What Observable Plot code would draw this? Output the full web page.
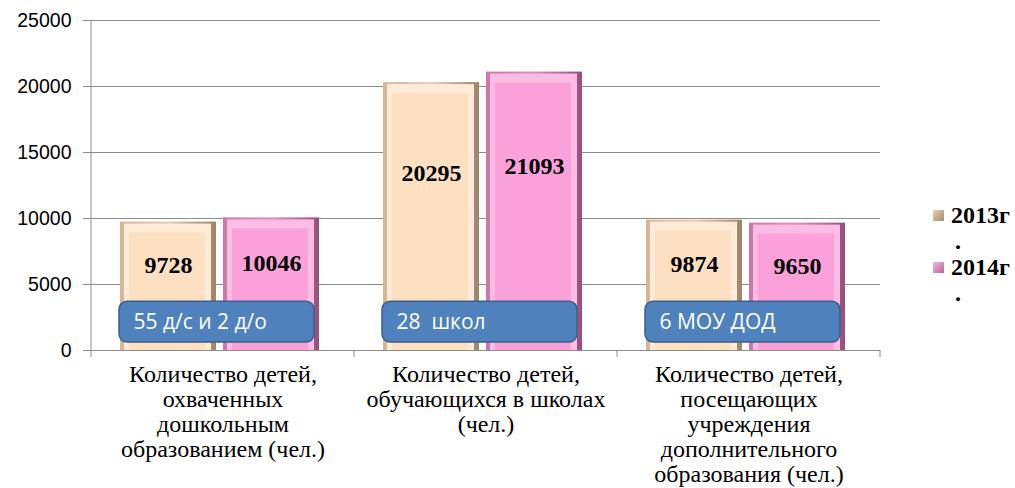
<!DOCTYPE html>
<html>
<head>
<meta charset="utf-8">
<script src="https://cdn.jsdelivr.net/npm/d3@7"></script>
<script src="https://cdn.jsdelivr.net/npm/@observablehq/plot@0.6"></script>
<style>
  html, body { margin: 0; padding: 0; background: #fff; }
  #wrap { position: relative; width: 1015px; height: 488px; overflow: hidden; }
  #legend { position: absolute; left: 933px; top: 202px; font-family: "Liberation Serif", serif; font-weight: bold; font-size: 24px; line-height: 26px; color: #000; }
  .item { position: relative; padding-left: 18px; }
  .sw { position: absolute; left: 0; top: 8px; width: 11px; height: 11px; }
  .dot { padding-left: 4px; }
</style>
</head>
<body>
<div id="wrap"><div id="legend"></div></div>
<script>
const categories = [
  "Количество детей,\nохваченных\nдошкольным\nобразованием (чел.)",
  "Количество детей,\nобучающихся в школах\n(чел.)",
  "Количество детей,\nпосещающих\nучреждения\nдополнительного\nобразования (чел.)"
];
const years = ["2013г.", "2014г."];
const values2013 = [9728, 20295, 9874];
const values2014 = [10046, 21093, 9650];
const notes = ["55 д/с и 2 д/о", "28  школ", "6 МОУ ДОД"];
const yTicks = [0, 5000, 10000, 15000, 20000, 25000];

const data = categories.flatMap((c, i) => [
  {category: c, year: years[0], value: values2013[i]},
  {category: c, year: years[1], value: values2014[i]}
]);
const noteData = categories.map((c, i) => ({category: c, note: notes[i]}));

const faceColor = {[years[0]]: "#FDDFC1", [years[1]]: "#F9A1D8"};
const edgeFill = {[years[0]]: "url(#edge2013)", [years[1]]: "url(#edge2014)"};
const topFill = {[years[0]]: "#FFEBD8", [years[1]]: "#FCBDE5"};

const noteY1 = 600, noteY2 = 3700;

const chart = Plot.plot({
  width: 1015,
  height: 488,
  marginLeft: 90,
  marginRight: 135,
  marginTop: 20,
  marginBottom: 138,
  style: {fontFamily: "Liberation Sans, sans-serif", background: "#fff"},
  fx: {domain: categories, padding: 0, label: null},
  x: {domain: years, paddingInner: 0.067, paddingOuter: 0.30, align: 0.457, axis: null},
  y: {domain: [0, 25000], label: null},
  marks: [
    Plot.gridY(yTicks, {stroke: "#8c8c8c", strokeOpacity: 1, strokeWidth: 1}),
    Plot.axisY(yTicks, {tickSize: 8, tickPadding: 12, fontSize: 19.5, stroke: "#8c8c8c", tickFormat: d => String(d), label: null, fill: "#000"}),
    Plot.axisFx({anchor: "bottom", tickSize: 0, tickPadding: 14, fontSize: 24, lineHeight: 1.04, fontFamily: "Liberation Serif, serif", label: null, fill: "#000"}),
    // bevelled bars: edge, top highlight, face
    Plot.barY(data, {fx: "category", x: "year", y: "value", fill: d => edgeFill[d.year]}),
    Plot.barY(data, {fx: "category", x: "year", y: "value", fill: d => topFill[d.year], insetLeft: 4, insetRight: 5, insetTop: 2}),
    Plot.barY(data, {fx: "category", x: "year", y: "value", fill: d => faceColor[d.year], insetLeft: 9, insetRight: 11, insetTop: 11}),
    Plot.text(data, {fx: "category", x: "year", y: d => d.value * 0.66, text: d => String(d.value), fontSize: 24, fontWeight: "bold", fontFamily: "Liberation Serif, serif", fill: "#000"}),
    // annotation boxes
    Plot.barY(noteData, {fx: "category", y1: () => noteY1, y2: () => noteY2, insetLeft: 28, insetRight: 40, rx: 8, fill: "#4F81BD", stroke: "#3A5F8C", strokeWidth: 1.5}),
    Plot.text(noteData, {fx: "category", y: () => (noteY1 + noteY2) / 2, text: "note", frameAnchor: "left", textAnchor: "start", dx: 42, fill: "#fff", fontSize: 21, fontFamily: "Open Sans, sans-serif"})
  ]
});

document.getElementById("wrap").prepend(chart);

// gradients for the bar edges
const svg = d3.select(chart);
const defs = svg.insert("defs", ":first-child");
function grad(id, stops) {
  const g = defs.append("linearGradient").attr("id", id).attr("x1", "0").attr("x2", "1").attr("y1", "0").attr("y2", "0");
  stops.forEach(([o, c]) => g.append("stop").attr("offset", o).attr("stop-color", c));
}
grad("edge2013", [[0, "#D5B596"], [0.5, "#E9CDAE"], [1, "#9E8468"]]);
grad("edge2014", [[0, "#CC76AA"], [0.5, "#E28CC2"], [1, "#97507A"]]);

// axis lines and category boundary ticks from the library's scales
const fx = chart.scale("fx"), y = chart.scale("y");
const starts = fx.domain.map(d => fx.apply(d));
const bounds = starts.concat([starts[starts.length - 1] + fx.bandwidth]);
const y0 = y.apply(0), yTop = y.apply(25000);
svg.append("line").attr("x1", bounds[0]).attr("x2", bounds[0]).attr("y1", yTop).attr("y2", y0).attr("stroke", "#8c8c8c");
bounds.forEach(b => svg.append("line").attr("x1", b).attr("x2", b).attr("y1", y0).attr("y2", y0 + 7).attr("stroke", "#8c8c8c"));

// legend
const legend = d3.select("#legend");
const swatch = {[years[0]]: "linear-gradient(135deg,#E8D2BA,#A38A70)", [years[1]]: "linear-gradient(135deg,#F7B5DE,#B8689A)"};
years.forEach(yr => {
  const it = legend.append("div").attr("class", "item");
  it.append("span").attr("class", "sw").style("background", swatch[yr]);
  it.append("div").text(yr.replace(".", ""));
  it.append("div").attr("class", "dot").text(".");
});
</script>
</body>
</html>
